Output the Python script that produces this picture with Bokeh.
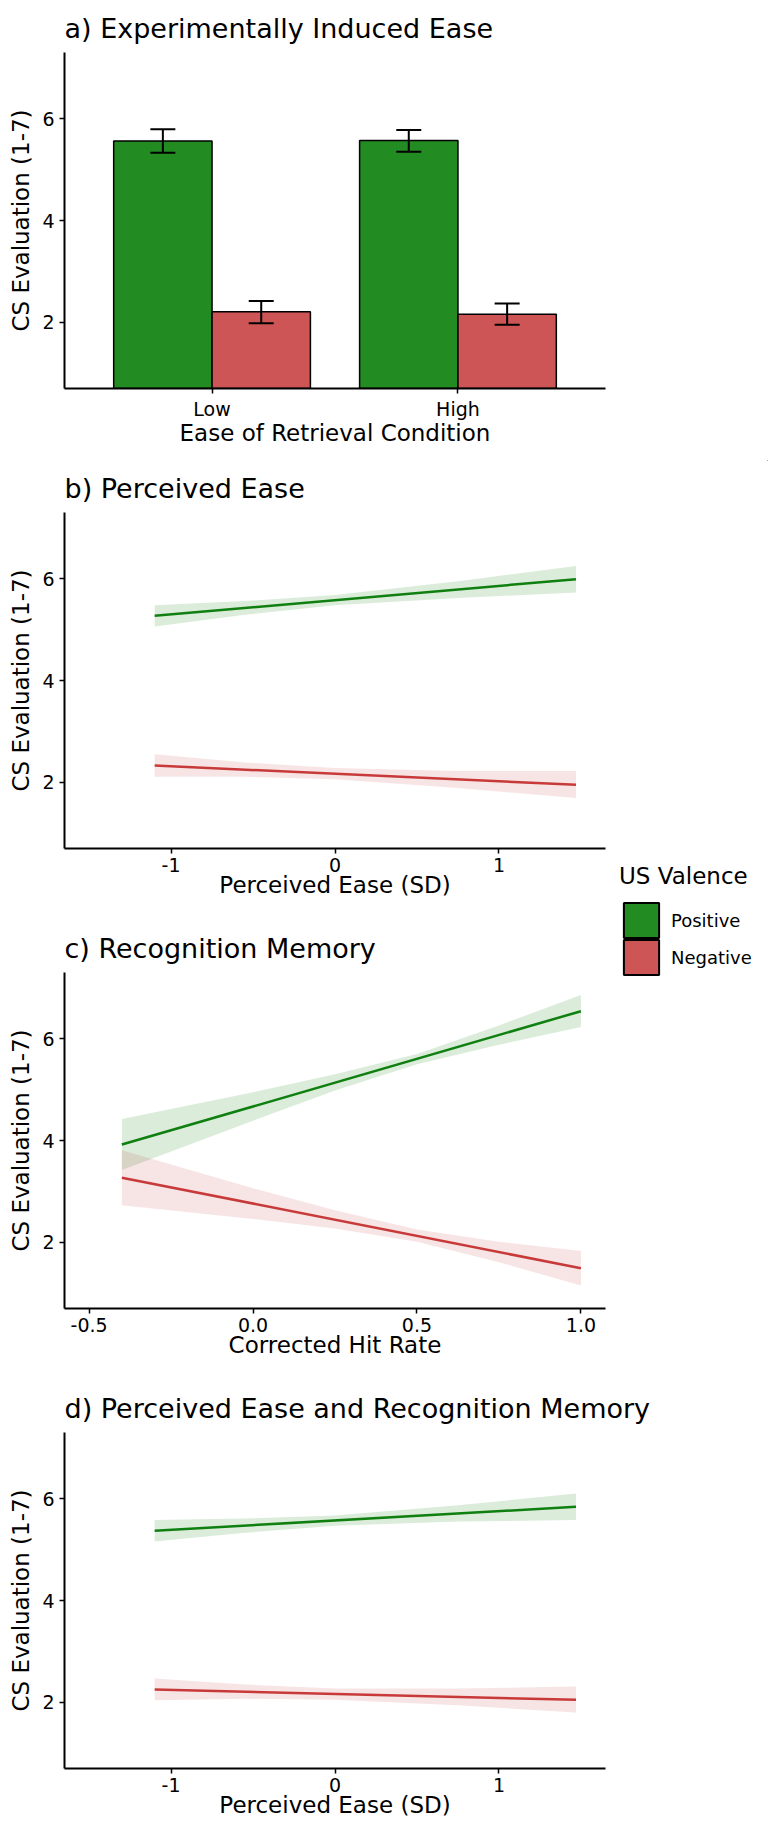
from bokeh.plotting import figure
from bokeh.models import (Range1d, FixedTicker, ColumnDataSource,
                          Whisker, TeeHead, Legend, LegendItem)
from bokeh.layouts import column, row
from bokeh.transform import dodge
from bokeh.embed import file_html
from bokeh.resources import INLINE

# ---------------- data ----------------
CONDITIONS = ["Low", "High"]
VALENCE = ["Positive", "Negative"]
A_POS_MEAN = [5.56, 5.57]
A_POS_LO = [5.33, 5.35]
A_POS_HI = [5.79, 5.78]
A_NEG_MEAN = [2.21, 2.16]
A_NEG_LO = [1.98, 1.95]
A_NEG_HI = [2.42, 2.37]

# panel b: perceived ease
B_LINE_X = [-1.1, 1.47]
B_POS_LINE = [5.27, 5.99]
B_NEG_LINE = [2.33, 1.95]
B_BAND_X = [-1.1, -0.55, 0.0, 0.75, 1.47]
B_POS_LO = [5.06, 5.29, 5.48, 5.62, 5.73]
B_POS_HI = [5.48, 5.56, 5.68, 5.95, 6.25]
B_NEG_LO = [2.11, 2.11, 2.06, 1.89, 1.69]
B_NEG_HI = [2.55, 2.39, 2.28, 2.22, 2.22]

# panel c: recognition memory
C_LINE_X = [-0.4, 1.0]
C_POS_LINE = [3.92, 6.54]
C_NEG_LINE = [3.27, 1.49]
C_BAND_X = [-0.4, 0.0, 0.25, 0.5, 0.75, 1.0]
C_POS_LO = [3.42, 4.39, 4.98, 5.50, 5.88, 6.23]
C_POS_HI = [4.42, 4.95, 5.30, 5.70, 6.26, 6.86]
C_NEG_LO = [2.73, 2.46, 2.27, 2.01, 1.61, 1.15]
C_NEG_HI = [3.81, 3.06, 2.63, 2.25, 2.01, 1.83]

# panel d: perceived ease and recognition memory
D_LINE_X = [-1.1, 1.47]
D_POS_LINE = [5.37, 5.84]
D_NEG_LINE = [2.25, 2.05]
D_BAND_X = [-1.1, -0.55, 0.0, 0.75, 1.47]
D_POS_LO = [5.16, 5.33, 5.47, 5.55, 5.58]
D_POS_HI = [5.58, 5.61, 5.67, 5.87, 6.10]
D_NEG_LO = [2.04, 2.07, 2.05, 1.94, 1.80]
D_NEG_HI = [2.47, 2.35, 2.27, 2.27, 2.31]

Y_TICKS = [2, 4, 6]
SD_TICKS = [-1, 0, 1]
SD_LABELS = ["-1", "0", "1"]
HIT_TICKS = [-0.5, 0.0, 0.5, 1.0]
HIT_LABELS = ["-0.5", "0.0", "0.5", "1.0"]

# ---------------- style ----------------
FONT = "DejaVu Sans"
GREEN_BAR = "#228B22"
RED_BAR = "#CD5555"
GREEN_LINE = "#0F7F0F"
RED_LINE = "#C83A3A"
YLABEL = "CS Evaluation (1-7)"


def make_fig(title, xlabel, x_range, right, top, bottom, fh=336):
    p = figure(title=title, x_range=x_range, y_range=Range1d(0.7, 7.3),
               frame_width=541, frame_height=fh,
               min_border_left=64, min_border_right=right,
               min_border_top=top, min_border_bottom=bottom,
               output_backend="svg", toolbar_location=None,
               background_fill_color="white", border_fill_color="white")
    p.xgrid.visible = False
    p.ygrid.visible = False
    p.outline_line_color = None
    for ax in (p.xaxis[0], p.yaxis[0]):
        ax.axis_line_width = 2
        ax.axis_line_color = "black"
        ax.major_tick_line_width = 1.5
        ax.major_tick_line_color = "black"
        ax.major_tick_out = 5
        ax.major_tick_in = 0
        ax.minor_tick_line_color = None
        ax.major_label_text_font = FONT
        ax.major_label_text_font_size = "19px"
        ax.major_label_text_color = "black"
        ax.axis_label_text_font = FONT
        ax.axis_label_text_font_size = "23px"
        ax.axis_label_text_font_style = "normal"
        ax.axis_label_text_color = "black"
        ax.axis_label_standoff = 5
        ax.major_label_standoff = 5
    p.xaxis[0].major_label_standoff = 4
    p.xaxis[0].axis_label_standoff = -3
    p.yaxis[0].axis_label = YLABEL
    p.xaxis[0].axis_label = xlabel
    p.yaxis[0].ticker = FixedTicker(ticks=Y_TICKS)
    p.title.text_font = FONT
    p.title.text_font_size = "27px"
    p.title.text_font_style = "normal"
    p.title.text_color = "black"
    p.title.standoff = 17
    return p


def set_xticks(p, ticks, labels):
    p.xaxis[0].ticker = FixedTicker(ticks=ticks)
    p.xaxis[0].major_label_overrides = {t: s for t, s in zip(ticks, labels)}


# ---------------- panel a ----------------
xi = [i + 1 for i in range(len(CONDITIONS))]
pa = make_fig("a) Experimentally Induced Ease", "Ease of Retrieval Condition",
              Range1d(0.4, len(CONDITIONS) + 0.6), right=163, top=52, bottom=72)
src_a = ColumnDataSource(dict(xi=xi, pos=A_POS_MEAN, pos_lo=A_POS_LO, pos_hi=A_POS_HI,
                              neg=A_NEG_MEAN, neg_lo=A_NEG_LO, neg_hi=A_NEG_HI))
pa.vbar(x=dodge("xi", -0.2, range=pa.x_range), top="pos", bottom=0, width=0.4,
        fill_color=GREEN_BAR, line_color="black", line_width=1.5, source=src_a)
pa.vbar(x=dodge("xi", 0.2, range=pa.x_range), top="neg", bottom=0, width=0.4,
        fill_color=RED_BAR, line_color="black", line_width=1.5, source=src_a)
for off, lo, hi in ((-0.2, "pos_lo", "pos_hi"), (0.2, "neg_lo", "neg_hi")):
    w = Whisker(base=dodge("xi", off, range=pa.x_range), lower=lo, upper=hi, source=src_a,
                line_width=2, line_color="black", level="annotation",
                lower_head=TeeHead(size=25, line_width=2, line_color="black"),
                upper_head=TeeHead(size=25, line_width=2, line_color="black"))
    pa.add_layout(w)
set_xticks(pa, xi, CONDITIONS)


def add_fits(p, bx, plo, phi, nlo, nhi, lx, pl, nl):
    p.varea(x=bx, y1=plo, y2=phi, fill_color=GREEN_BAR, fill_alpha=0.16)
    p.line(x=lx, y=pl, line_color=GREEN_LINE, line_width=2.5)
    p.varea(x=bx, y1=nlo, y2=nhi, fill_color=RED_BAR, fill_alpha=0.16)
    p.line(x=lx, y=nl, line_color=RED_LINE, line_width=2.5)


# ---------------- panel b ----------------
pb = make_fig("b) Perceived Ease", "Perceived Ease (SD)", Range1d(-1.65, 1.65),
              right=7, top=52, bottom=72)
add_fits(pb, B_BAND_X, B_POS_LO, B_POS_HI, B_NEG_LO, B_NEG_HI, B_LINE_X, B_POS_LINE, B_NEG_LINE)
set_xticks(pb, SD_TICKS, SD_LABELS)

# ---------------- panel c ----------------
pc = make_fig("c) Recognition Memory", "Corrected Hit Rate", Range1d(-0.575, 1.075),
              right=7, top=52, bottom=72)
add_fits(pc, C_BAND_X, C_POS_LO, C_POS_HI, C_NEG_LO, C_NEG_HI, C_LINE_X, C_POS_LINE, C_NEG_LINE)
set_xticks(pc, HIT_TICKS, HIT_LABELS)

# ---------------- panel d ----------------
pd_ = make_fig("d) Perceived Ease and Recognition Memory", "Perceived Ease (SD)",
               Range1d(-1.65, 1.65), right=163, top=52, bottom=72)
add_fits(pd_, D_BAND_X, D_POS_LO, D_POS_HI, D_NEG_LO, D_NEG_HI, D_LINE_X, D_POS_LINE, D_NEG_LINE)
set_xticks(pd_, SD_TICKS, SD_LABELS)

# ---------------- legend ----------------
leg = figure(width=156, height=920, x_range=Range1d(0, 1), y_range=Range1d(0, 1),
             x_axis_location=None, y_axis_location=None,
             min_border_left=0, min_border_right=0, min_border_top=0, min_border_bottom=0,
             output_backend="svg", toolbar_location=None)
leg.xgrid.visible = False
leg.ygrid.visible = False
leg.outline_line_color = None
# keys only: placed outside the visible range so that only the legend shows them
r_pos = leg.vbar(x=[10], top=[10], bottom=[9], width=0.1,
                 fill_color=GREEN_BAR, line_color="black", line_width=2)
r_neg = leg.vbar(x=[10], top=[10], bottom=[9], width=0.1,
                 fill_color=RED_BAR, line_color="black", line_width=2)

LEG_STYLE = dict(glyph_width=44, glyph_height=44, spacing=0, padding=0, margin=0,
                 label_standoff=8, border_line_color=None, background_fill_alpha=0,
                 label_text_font=FONT, label_text_font_size="18px", label_text_color="black")
legend1 = Legend(items=[LegendItem(label=VALENCE[0], renderers=[r_pos])],
                 title="US Valence", location=(7, 438), title_standoff=9,
                 title_text_font=FONT, title_text_font_size="23px",
                 title_text_font_style="normal", title_text_color="black", **LEG_STYLE)
legend2 = Legend(items=[LegendItem(label=VALENCE[1], renderers=[r_neg])],
                 location=(7, 401), **LEG_STYLE)
leg.add_layout(legend1)
leg.add_layout(legend2)

layout = column(pa, row(column(pb, pc), leg), pd_)
open("out.html", "w").write(file_html(layout, INLINE))
